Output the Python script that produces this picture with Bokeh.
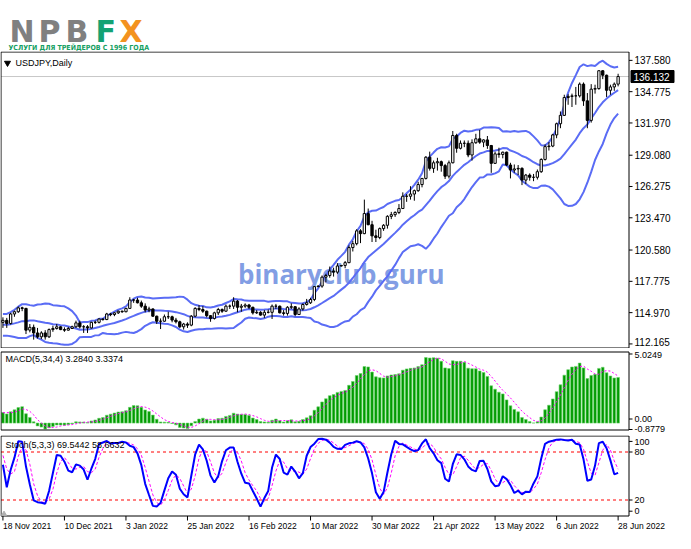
import numpy as np
import pandas as pd
from bokeh.plotting import figure
from bokeh.layouts import column
from bokeh.models import Range1d
from bokeh.core.properties import value
from bokeh.embed import file_html
from bokeh.resources import INLINE

# ---------------- texts ----------------
logo_letters = ["N", "P", "B", "F", "X"]
logo_sub = "УСЛУГИ ДЛЯ ТРЕЙДЕРОВ С 1996 ГОДА"
symbol_title = "USDJPY,Daily"
macd_title = "MACD(5,34,4) 3.2840 3.3374"
stoch_title = "Stoch(5,3,3) 69.5442 58.6632"
watermark = "binaryclub.guru"
last_price = 136.132
last_price_text = "136.132"

price_ticks = [137.580, 134.775, 131.970, 129.080, 126.275, 123.470,
               120.580, 117.775, 114.970, 112.165]
macd_tick_labels = ["5.0249", "0.00", "-0.8779"]
stoch_tick_labels = ["100", "80", "20", "0"]
stoch_levels = [80, 20]
date_tick_bars = [0, 16, 32, 48, 64, 80, 96, 112, 128, 144, 160]
date_tick_labels = ["18 Nov 2021", "10 Dec 2021", "3 Jan 2022", "25 Jan 2022",
                    "16 Feb 2022", "10 Mar 2022", "30 Mar 2022", "21 Apr 2022",
                    "13 May 2022", "6 Jun 2022", "28 Jun 2022"]

# ---------------- daily OHLC (first 35 bars = history before the visible window) ----------------
warmup_bars = 35
opens = [
    111.30, 111.05, 110.95, 111.45, 111.40, 111.65, 112.20, 113.25, 113.60, 113.25,
    113.70, 114.20, 114.35, 114.35, 114.30, 114.00, 113.45, 113.70, 114.15, 113.80,
    113.55, 113.95, 114.00, 114.00, 113.95, 114.05, 113.75, 113.40, 112.90, 112.85,
    113.90, 114.15, 113.90, 114.15, 114.80,
    114.10, 114.28, 114.00, 114.85, 115.05, 115.40, 115.35, 113.40, 113.65, 113.15,
    112.80, 113.15, 112.80, 113.45, 113.55, 113.70, 113.45, 113.40, 113.55, 113.70,
    114.05, 113.70, 113.70, 113.60, 114.10, 114.10, 114.40, 114.35, 114.85, 114.80,
    114.95, 115.10, 115.05, 115.35, 116.10, 116.10, 115.85, 115.55, 115.20, 115.30,
    114.65, 114.20, 114.20, 114.60, 114.60, 114.30, 114.15, 113.70, 113.95, 113.85,
    114.65, 115.35, 115.25, 115.10, 114.70, 114.45, 114.95, 115.25, 115.10, 115.55,
    115.55, 116.00, 115.45, 115.55, 115.65, 115.45, 114.95, 115.00, 114.75, 115.00,
    115.00, 115.55, 115.55, 114.95, 114.90, 115.45, 115.50, 114.80, 115.30, 115.70,
    115.85, 116.15, 117.30, 117.35, 118.15, 118.30, 118.70, 118.60, 119.15, 119.20,
    119.45, 120.80, 121.15, 122.30, 122.05, 123.85, 122.85, 121.85, 121.70, 122.50,
    122.80, 123.60, 123.75, 123.95, 124.30, 125.40, 125.40, 125.60, 125.90, 126.45,
    127.00, 128.90, 127.90, 128.40, 128.50, 128.15, 127.20, 128.40, 130.85, 129.70,
    130.15, 130.15, 129.10, 130.20, 130.55, 130.25, 130.45, 129.95, 128.35, 129.20,
    129.15, 129.35, 128.20, 127.75, 127.85, 127.90, 126.85, 127.30, 127.10, 127.10,
    127.60, 128.70, 129.85, 129.90, 130.90, 131.90, 132.65, 134.25, 134.35, 134.40,
    134.40, 135.45, 133.95, 132.20, 135.00, 135.05, 136.65, 136.25, 134.90, 135.20,
    135.45,
]
highs = [
    111.60, 111.15, 111.60, 111.80, 111.85, 112.25, 113.40, 113.80, 113.70, 113.85,
    114.45, 114.45, 114.70, 114.70, 114.40, 114.10, 113.90, 114.30, 114.20, 113.90,
    114.05, 114.05, 114.40, 114.10, 114.30, 114.20, 113.80, 113.60, 113.20, 114.00,
    114.30, 114.30, 114.20, 114.95, 114.95,
    114.55, 114.50, 114.95, 115.15, 115.52, 115.50, 115.40, 113.95, 113.90, 113.60,
    113.30, 113.40, 113.55, 113.80, 113.95, 113.75, 113.65, 113.70, 113.80, 114.25,
    114.25, 113.85, 113.85, 114.15, 114.25, 114.45, 114.45, 114.95, 114.95, 115.00,
    115.15, 115.15, 115.40, 116.35, 116.20, 116.30, 116.05, 115.80, 115.50, 115.35,
    114.70, 114.45, 114.80, 115.05, 114.70, 114.50, 114.25, 114.05, 114.10, 114.75,
    115.45, 115.65, 115.55, 115.15, 114.75, 115.05, 115.40, 115.35, 115.70, 115.70,
    116.35, 116.10, 115.75, 115.80, 115.75, 115.50, 115.20, 115.10, 115.20, 115.25,
    115.70, 115.75, 115.60, 115.20, 115.55, 115.80, 115.55, 115.45, 115.80, 116.20,
    116.30, 117.35, 117.40, 118.30, 118.45, 119.10, 119.00, 119.40, 119.25, 119.60,
    121.00, 121.40, 122.45, 122.45, 125.10, 124.30, 123.20, 122.40, 122.60, 122.90,
    123.70, 124.00, 124.05, 124.70, 125.75, 125.60, 126.30, 126.00, 126.70, 127.00,
    129.00, 129.40, 128.60, 128.85, 128.60, 128.30, 128.60, 131.25, 131.00, 130.40,
    130.40, 130.40, 130.50, 131.00, 131.35, 130.50, 130.80, 130.00, 129.40, 129.75,
    129.40, 129.40, 128.40, 128.25, 128.20, 128.00, 127.40, 127.45, 127.40, 127.80,
    128.80, 130.05, 130.25, 131.00, 132.00, 133.00, 134.50, 134.55, 134.60, 135.20,
    135.60, 135.60, 134.65, 135.45, 135.40, 136.70, 136.70, 136.30, 135.40, 135.60,
    136.38,
]
lows = [
    110.90, 110.80, 110.90, 111.30, 111.30, 111.60, 112.10, 113.20, 113.10, 113.20,
    113.65, 113.90, 114.10, 114.00, 113.80, 113.40, 113.40, 113.60, 113.50, 113.30,
    113.50, 113.90, 113.80, 113.60, 113.70, 113.60, 113.30, 112.90, 112.75, 112.80,
    113.80, 113.80, 113.80, 114.10, 114.00,
    113.60, 113.60, 113.90, 114.60, 114.95, 115.10, 113.05, 113.20, 112.55, 112.65,
    112.60, 112.55, 112.70, 113.25, 113.45, 113.40, 113.25, 113.35, 113.50, 113.60,
    113.55, 113.15, 113.15, 113.55, 113.95, 114.00, 114.25, 114.30, 114.65, 114.65,
    114.85, 114.95, 115.00, 115.30, 115.85, 115.80, 115.40, 115.00, 115.00, 114.60,
    113.95, 113.50, 114.15, 114.40, 114.10, 114.00, 113.60, 113.45, 113.60, 113.75,
    114.55, 115.10, 114.95, 114.55, 114.15, 114.35, 114.75, 114.95, 115.05, 115.30,
    115.30, 115.00, 115.05, 115.40, 115.30, 114.80, 114.85, 114.70, 114.50, 114.90,
    114.40, 115.30, 114.90, 114.70, 114.70, 115.30, 114.65, 114.80, 115.15, 115.60,
    115.75, 116.00, 117.25, 117.20, 117.70, 118.10, 118.20, 118.45, 119.10, 118.95,
    119.40, 120.45, 121.00, 121.20, 122.00, 122.80, 121.30, 121.30, 121.55, 122.30,
    122.50, 123.35, 123.55, 123.80, 124.30, 124.90, 125.10, 125.00, 125.80, 126.20,
    126.90, 127.70, 127.50, 127.70, 127.60, 126.95, 127.00, 128.35, 129.30, 129.60,
    129.80, 128.90, 128.60, 130.10, 130.10, 129.80, 129.65, 127.50, 128.30, 128.85,
    128.80, 128.10, 127.00, 127.50, 127.30, 126.40, 126.50, 126.80, 126.75, 126.90,
    127.50, 128.60, 129.50, 129.80, 130.60, 131.50, 132.60, 133.60, 133.40, 133.60,
    134.25, 133.50, 131.50, 132.00, 134.60, 134.95, 135.90, 134.30, 134.50, 134.85,
    135.25,
]
closes = [
    111.05, 110.95, 111.45, 111.40, 111.65, 112.20, 113.25, 113.60, 113.25, 113.70,
    114.20, 114.35, 114.35, 114.30, 114.00, 113.45, 113.70, 114.15, 113.80, 113.55,
    113.95, 114.00, 114.00, 113.95, 114.05, 113.75, 113.40, 112.90, 112.85, 113.90,
    114.15, 113.90, 114.15, 114.80, 114.10,
    114.28, 114.00, 114.85, 115.05, 115.40, 115.35, 113.40, 113.65, 113.15, 112.80,
    113.15, 112.80, 113.45, 113.55, 113.70, 113.45, 113.40, 113.55, 113.70, 114.05,
    113.70, 113.70, 113.60, 114.10, 114.10, 114.40, 114.35, 114.85, 114.80, 114.95,
    115.10, 115.05, 115.35, 116.10, 116.10, 115.85, 115.55, 115.20, 115.30, 114.65,
    114.20, 114.20, 114.60, 114.60, 114.30, 114.15, 113.70, 113.95, 113.85, 114.65,
    115.35, 115.25, 115.10, 114.70, 114.45, 114.95, 115.25, 115.10, 115.55, 115.55,
    116.00, 115.45, 115.55, 115.65, 115.45, 114.95, 115.00, 114.75, 115.00, 115.00,
    115.55, 115.55, 114.95, 114.90, 115.45, 115.50, 114.80, 115.30, 115.70, 115.85,
    116.15, 117.30, 117.35, 118.15, 118.30, 118.70, 118.60, 119.15, 119.20, 119.45,
    120.80, 121.15, 122.30, 122.05, 123.85, 122.85, 121.85, 121.70, 122.50, 122.80,
    123.60, 123.75, 123.95, 124.30, 125.40, 125.40, 125.60, 125.90, 126.45, 127.00,
    128.90, 127.90, 128.40, 128.50, 128.15, 127.20, 128.40, 130.85, 129.70, 130.15,
    130.15, 129.10, 130.20, 130.55, 130.25, 130.45, 129.95, 128.35, 129.20, 129.15,
    129.35, 128.20, 127.75, 127.85, 127.90, 126.85, 127.30, 127.10, 127.10, 127.60,
    128.70, 129.85, 129.90, 130.90, 131.90, 132.65, 134.25, 134.35, 134.40, 134.40,
    135.45, 133.95, 132.20, 135.00, 135.05, 136.65, 136.25, 134.90, 135.20, 135.45,
    136.132,
]

# ---------------- indicators computed from the prices ----------------
bands_period, bands_dev = 15, 2.0
O = np.array(opens); H = np.array(highs); L = np.array(lows); C = np.array(closes)
sc = pd.Series(C)
bb_mid = sc.rolling(bands_period).mean()
bb_sd = sc.rolling(bands_period).std(ddof=0)
bb_up = bb_mid + bands_dev * bb_sd
bb_lo = bb_mid - bands_dev * bb_sd
macd = sc.ewm(span=5, adjust=False).mean() - sc.ewm(span=34, adjust=False).mean()
macd_sig = macd.rolling(4).mean()
hh = pd.Series(H).rolling(5).max()
ll = pd.Series(L).rolling(5).min()
st_k = 100 * (sc - ll).rolling(3).sum() / (hh - ll).rolling(3).sum()
st_d = st_k.rolling(3).mean()

v = slice(warmup_bars, None)
o, h, l, c = O[v], H[v], L[v], C[v]
x = np.arange(len(c))
up, mid, lo = bb_up.values[v], bb_mid.values[v], bb_lo.values[v]
mc, ms = macd.values[v], macd_sig.values[v]
sk, sd = st_k.values[v], st_d.values[v]

# ---------------- geometry (pixels of the 675 px wide canvas) ----------------
W = 675
K = 3.845                      # px per bar
XS = -0.5 - 0.5 / K            # bar coordinate at canvas px 0
def X(px):
    return XS + px / K
XL, XB = X(0.5), X(628.5)      # chart box left / right border
xr = Range1d(XS, X(W))
FONT = "Liberation Sans"
BB_COLOR = "#5a6cf5"


def panel(hf, vtop, vbot, top_px, bot_px):
    s = (bot_px - top_px) / (vtop - vbot)
    yr = Range1d(vbot - (hf - bot_px) / s, vtop + top_px / s)
    f = figure(width=W, height=hf, x_range=xr, y_range=yr, min_border=0,
               x_axis_location=None, y_axis_location=None, toolbar_location=None,
               output_backend="svg", outline_line_color=None,
               background_fill_color="white", border_fill_color="white")
    f.grid.visible = False
    return f, s


def box(f, vtop, vbot):
    f.segment(x0=[XL, XB, XL, XL], y0=[vbot, vbot, vtop, vbot],
              x1=[XL, XB, XB, XB], y1=[vtop, vtop, vtop, vbot],
              line_color="black", line_width=1)


def right_axis(f, s, pos, labels, size_px=10):
    n = len(pos)
    f.segment(x0=[XB] * n, y0=pos, x1=[X(632)] * n, y1=pos, line_color="black", line_width=1)
    lo_lim = f.y_range.start + 0.7 * size_px / s
    hi_lim = f.y_range.end - 0.7 * size_px / s
    lab_y = [min(max(p, lo_lim), hi_lim) for p in pos]
    f.text(x=[X(634)] * n, y=lab_y, text=labels, text_font=value(FONT),
           text_font_size="%gpx" % size_px, text_color="black", text_align="left",
           text_baseline="middle")


# ---------------- logo strip ----------------
LOGO_H = 51
logo = figure(width=W, height=LOGO_H, x_range=Range1d(0, W), y_range=Range1d(LOGO_H, 0),
              min_border=0, x_axis_location=None, y_axis_location=None,
              toolbar_location=None, output_backend="svg", outline_line_color=None,
              background_fill_color="white", border_fill_color="white")
logo.grid.visible = False
logo_colors = ["#808080", "#808080", "#808080", "#13a273", "#f3921f"]
logo_px = [9, 38, 65, 95, 119]
logo.text(x=logo_px, y=[31.2] * 5, text=logo_letters, text_font=value("DejaVu Sans"),
          text_font_style="bold", text_font_size="30px", text_color=logo_colors,
          text_baseline="alphabetic")
logo.text(x=[8], y=[47.2], text=[logo_sub],
          text_font=value("DejaVu Sans Condensed, Roboto"),
          text_font_style="bold", text_font_size="7px", text_color="#14a062",
          text_baseline="alphabetic")

# ---------------- main price panel ----------------
P_TOP, P_BOT = 138.33, 111.80
pm, s_main = panel(297, P_TOP, P_BOT, 0.5, 296.5)
pm.segment(x0=[XL], y0=[last_price], x1=[XB], y1=[last_price], line_color="#c8c8c8", line_width=1)
pm.text(x=[88], y=[118.4], text=[watermark], text_font=value("Open Sans"),
        text_font_style="bold", text_font_size="26px", text_color="#6b8de0",
        text_alpha=0.85, text_align="center", text_baseline="middle")
pm.line(x, up, line_color=BB_COLOR, line_width=2)
pm.line(x, mid, line_color=BB_COLOR, line_width=2)
pm.line(x, lo, line_color=BB_COLOR, line_width=2)
pm.segment(x0=x, y0=l, x1=x, y1=h, line_color="black", line_width=1)
bull = c >= o
top = np.maximum(o, c)
bot = np.minimum(o, c)
pm.vbar(x=x[bull], top=top[bull], bottom=bot[bull], width=0.6,
        fill_color="white", line_color="black", line_width=1)
pm.vbar(x=x[~bull], top=top[~bull], bottom=bot[~bull], width=0.6,
        fill_color="black", line_color="black", line_width=1)
title_y = P_TOP - 11 / s_main
pm.scatter(x=[X(7)], y=[title_y], marker="inverted_triangle", size=6, color="black")
pm.text(x=[X(15)], y=[title_y], text=[symbol_title], text_font=value(FONT),
        text_font_size="9px", text_color="black", text_baseline="middle")
right_axis(pm, s_main, price_ticks, ["%.3f" % t for t in price_ticks], 10)
pm.rect(x=[X(652)], y=[last_price], width=43, height=12, width_units="screen",
        height_units="screen", fill_color="black", line_color="black")
pm.text(x=[X(633)], y=[last_price], text=[last_price_text], text_font=value(FONT),
        text_font_size="10px", text_color="white", text_align="left", text_baseline="middle")
box(pm, P_TOP, P_BOT)

# ---------------- MACD panel ----------------
M_TOP, M_BOT = 5.17, -0.5
pmacd, s_macd = panel(87, M_TOP, M_BOT, 3.5, 81.5)
pmacd.vbar(x=x, top=mc, bottom=0, width=0.7, fill_color="#009a00",
           line_color="#6ad46a", line_width=0.6)
pmacd.line(x, ms, line_color="#ff00ff", line_width=1, line_dash="2 2")
pmacd.text(x=[X(5)], y=[M_TOP - 7 / s_macd], text=[macd_title], text_font=value(FONT),
           text_font_size="9px", text_color="black", text_baseline="middle")
zero_px = 3.5 + M_TOP * s_macd
right_axis(pmacd, s_macd, [5.0249, (zero_px - 70.5) / s_macd, (zero_px - 81.0) / s_macd],
           macd_tick_labels, 9)
box(pmacd, M_TOP, M_BOT)

# ---------------- Stochastic panel + time scale ----------------
pst, s_st = panel(98, 100, 0, 0.5, 80.5)
for lv in stoch_levels:
    pst.segment(x0=[XL], y0=[lv], x1=[XB], y1=[lv], line_color="#ff0000",
                line_width=1, line_dash="3 3")
pst.line(x, sd, line_color="#ff00ff", line_width=1, line_dash="3 2")
pst.line(x, sk, line_color="#0000ff", line_width=2)
pst.text(x=[X(5)], y=[100 - 9 / s_st], text=[stoch_title], text_font=value(FONT),
         text_font_size="9px", text_color="black", text_baseline="middle")
right_axis(pst, s_st, [100 - 5.4 / s_st, 80, 20, 6], stoch_tick_labels, 9)
box(pst, 100, 0)
pst.scatter(x=[X(3.5)], y=[2.5], marker="triangle", size=5, color="#b0b0b0")
nt = len(date_tick_bars)
pst.segment(x0=date_tick_bars, y0=[0] * nt, x1=date_tick_bars, y1=[-4.5 / s_st] * nt,
            line_color="black", line_width=1)
pst.text(x=date_tick_bars, y=[-4.5 / s_st] * nt, text=date_tick_labels, text_font=value(FONT),
         text_font_size="8.5px", text_color="black", text_align="left", text_baseline="top")

layout = column(logo, pm, pmacd, pst, spacing=0)
open("out.html", "w").write(file_html(layout, INLINE))
